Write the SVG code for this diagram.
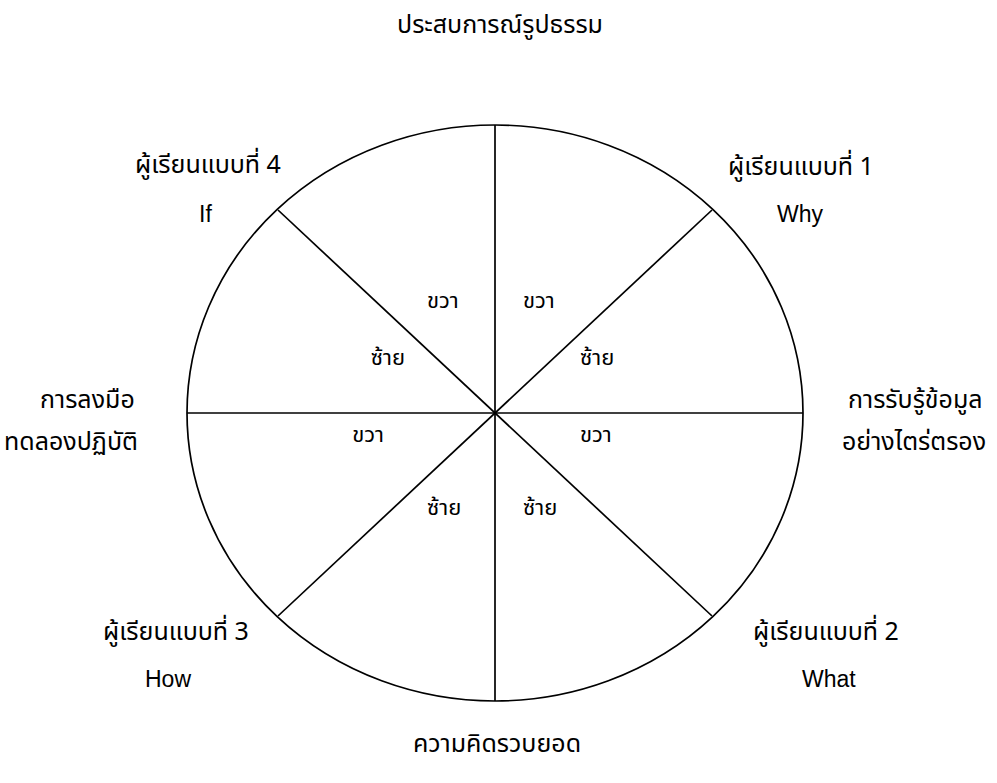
<svg xmlns="http://www.w3.org/2000/svg" width="997" height="783" viewBox="0 0 997 783">
<style>
.t{font-family:"Noto Sans Thai","Liberation Sans","DejaVu Sans",sans-serif;fill:#000;}
.big{font-size:25px;}
.sm{font-size:22px;}
.lat{font-family:"Liberation Sans",Arial,sans-serif;font-size:23px;fill:#000;}
.ln{stroke:#000;stroke-width:1.7;fill:none;}
</style>
<rect width="997" height="783" fill="#fff"/>
<g id="wheel">
<ellipse class="ln" cx="495" cy="413" rx="308" ry="288"/>
</g>
<g id="connectors">
<line class="ln" x1="495" y1="125" x2="495" y2="701"/>
<line class="ln" x1="187" y1="413" x2="803" y2="413"/>
<line class="ln" x1="278" y1="210" x2="712" y2="616"/>
<line class="ln" x1="712" y1="210" x2="278" y2="616"/>
</g>
<g id="title-top"><text class="t big" x="500" y="33" text-anchor="middle">ประสบการณ์รูปธรรม</text></g>
<g id="title-bottom"><text class="t big" x="497" y="752" text-anchor="middle">ความคิดรวบยอด</text></g>
<g id="left-label"><text class="t big" x="40" y="408">การลงมือ</text><text class="t big" x="4" y="450">ทดลองปฏิบัติ</text></g>
<g id="right-label"><text class="t big" x="848" y="408">การรับรู้ข้อมูล</text><text class="t big" x="842" y="450">อย่างไตร่ตรอง</text></g>
<g id="learner1"><text class="t big" x="728" y="175">ผู้เรียนแบบที่ 1</text><text class="lat" x="777" y="222">Why</text></g>
<g id="learner2"><text class="t big" x="753" y="640">ผู้เรียนแบบที่ 2</text><text class="lat" x="802" y="687">What</text></g>
<g id="learner3"><text class="t big" x="103" y="640">ผู้เรียนแบบที่ 3</text><text class="lat" x="145" y="687">How</text></g>
<g id="learner4"><text class="t big" x="135" y="173">ผู้เรียนแบบที่ 4</text><text class="lat" x="199" y="222">If</text></g>
<g id="inner-labels">
<text class="t sm" x="427" y="308">ขวา</text>
<text class="t sm" x="523" y="308">ขวา</text>
<text class="t sm" x="405" y="365" text-anchor="end">ซ้าย</text>
<text class="t sm" x="580" y="365">ซ้าย</text>
<text class="t sm" x="384" y="442" text-anchor="end">ขวา</text>
<text class="t sm" x="580" y="442">ขวา</text>
<text class="t sm" x="427" y="515">ซ้าย</text>
<text class="t sm" x="523" y="515">ซ้าย</text>
</g>
</svg>
